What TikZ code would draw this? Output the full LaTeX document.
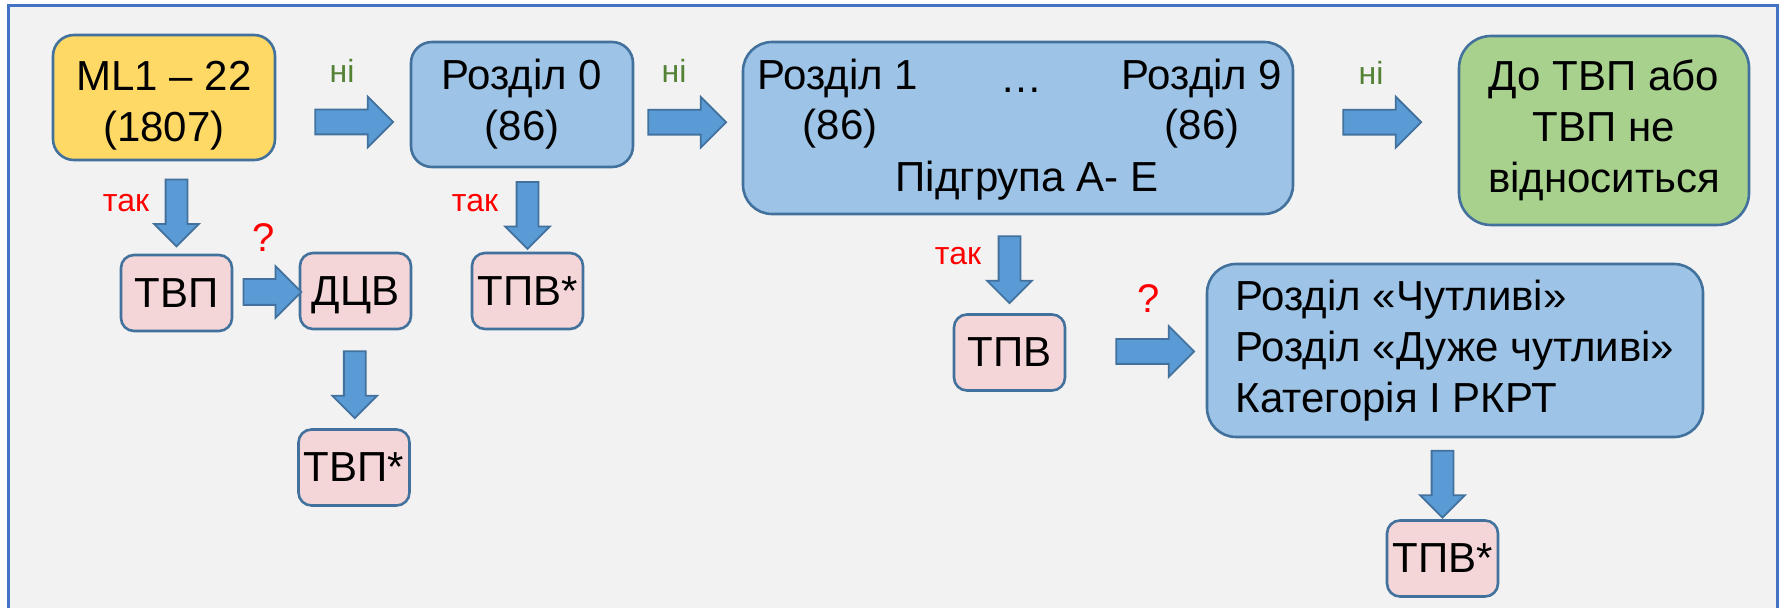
\documentclass[tikz,border=0pt]{standalone}
\usepackage{fontspec}
\setmainfont{Liberation Sans}
\usetikzlibrary{shapes.arrows}

\definecolor{framebl}{HTML}{4472C4}
\definecolor{edgebl}{HTML}{41719C}
\definecolor{arrbl}{HTML}{5B9BD5}
\definecolor{boxbl}{HTML}{9DC3E6}
\definecolor{boxyl}{HTML}{FFD966}
\definecolor{boxgr}{HTML}{A9D18E}
\definecolor{boxpk}{HTML}{F4D6D8}
\definecolor{bggray}{HTML}{F2F2F2}
\definecolor{nogreen}{HTML}{548235}

\tikzset{
  rbox/.style={draw=edgebl, line width=1.3pt, rounded corners=#1, align=center,
    inner sep=0pt, font=\fontsize{21}{25.5}\selectfont},
  rbox/.default=6.5pt,
  smallbox/.style={rbox, fill=boxpk, minimum width=55.5pt, minimum height=38pt},
  txt/.style={font=\fontsize{21}{25.5}\selectfont, anchor=base},
  harrow/.style={single arrow, draw=edgebl, fill=arrbl, line width=0.9pt,
    inner sep=0pt, inner ysep=5.75pt, minimum width=1pt, minimum height=39pt,
    single arrow head extend=6.5pt, single arrow head indent=0pt},
  varrow/.style={harrow, rotate=-90, inner ysep=5pt, minimum height=33.5pt,
    single arrow head extend=5.75pt},
  nolabel/.style={text=nogreen, font=\fontsize{16}{19}\selectfont, anchor=base},
  yeslabel/.style={text=red, font=\fontsize{16}{19}\selectfont, anchor=base},
  qmark/.style={text=red, font=\fontsize{20}{24}\selectfont, anchor=base}
}

\begin{document}
\begin{tikzpicture}[x=0.5pt, y=-0.5pt]
                \useasboundingbox (0,0) rectangle (1781,608);
                \fill[white] (0,0) rectangle (1781,608);
                \fill[bggray] (8,6) rectangle (1777.5,608);
                \draw[framebl, line width=1.5pt] (8,608) -- (8,6) -- (1777.5,6) -- (1777.5,608);

                % top row
                \node[rbox=10.5pt, fill=boxyl, minimum width=111pt, minimum height=62.5pt, text height=48pt] (ml) at (164,97.5) {ML1 – 22\\(1807)};
                \node[rbox=10.5pt, fill=boxbl, minimum width=111pt, minimum height=62.5pt] (r0) at (522,104.5) {Розділ 0\\(86)};
                \node[rbox=14.5pt, fill=boxbl, minimum width=275pt, minimum height=86pt] (r19) at (1018,128) {};
                \node[txt] (r1) at (838,90) {Розділ 1};
                \node[txt] (r1n) at (840,140) {(86)};
                \node[txt] (dots) at (1021,93) {…};
                \node[txt] (r9) at (1202,90) {Розділ 9};
                \node[txt] (r9n) at (1202,140) {(86)};
                \node[txt] (sub) at (1027,192) {Підгрупа А- Е};
                \node[rbox=16pt, fill=boxgr, minimum width=145pt, minimum height=94.5pt] (gr) at (1604,130.5) {До ТВП або\\ТВП не\\відноситься};

                % lower boxes
                \node[smallbox] (tvp) at (176.5,293) {ТВП};
                \node[smallbox, text depth=0pt] (dcv) at (355.5,291) {ДЦВ};
                \node[smallbox] (tvps) at (354,467.5) {ТВП*};
                \node[smallbox] (tpvs) at (527.5,291) {ТПВ*};
                \node[smallbox] (tpv) at (1009.5,352.5) {ТПВ};
                \node[rbox=14.5pt, fill=boxbl, minimum width=248pt, minimum height=86.5pt, align=left] (sens) at (1455,350.5) {Розділ «Чутливі»\\Розділ «Дуже чутливі»\\Категорія І РКРТ};
                \node[smallbox] (tpvs2) at (1442.5,558.5) {ТПВ*};

                % block arrows
                \path (ml.east) -- (r0.west) node[harrow, midway, xshift=2.5pt, yshift=-10.5pt] (a1) {};
                \path (r0.east) -- (r19.west) node[harrow, midway, xshift=-3.5pt, yshift=-3pt] (a2) {};
                \path (r19.east) -- (gr.west) node[harrow, midway, yshift=3.5pt] (a3) {};
                \path (tvp.east) -- (dcv.west) node[harrow, midway, minimum height=29pt, inner ysep=6pt] (a4) {};
                \path (tpv.east) -- (sens.west) node[harrow, midway, xshift=6.5pt] (a5) {};
                \path (ml.south -| tvp) -- (tvp.north) node[varrow, midway] (d1) {};
                \path (r0.south -| tpvs) -- (tpvs.north) node[varrow, midway] (d2) {};
                \path (dcv.south) -- (tvps.north) node[varrow, midway] (d3) {};
                \path (r19.south -| tpv) -- (tpv.north) node[varrow, midway] (d4) {};
                \path (sens.south -| tpvs2) -- (tpvs2.north) node[varrow, midway] (d5) {};

                % answers
                \node[nolabel] (n1) at (342,83) {ні};
                \node[nolabel] (n2) at (674,83) {ні};
                \node[nolabel] (n3) at (1371,85) {ні};
                \node[yeslabel] (y1) at (126,212) {так};
                \node[yeslabel] (y2) at (475,212) {так};
                \node[yeslabel] (y3) at (958,265) {так};
                \node[qmark] (q1) at (264,252) {?};
                \node[qmark] (q2) at (1149,313) {?};

            \end{tikzpicture}
\end{document}
